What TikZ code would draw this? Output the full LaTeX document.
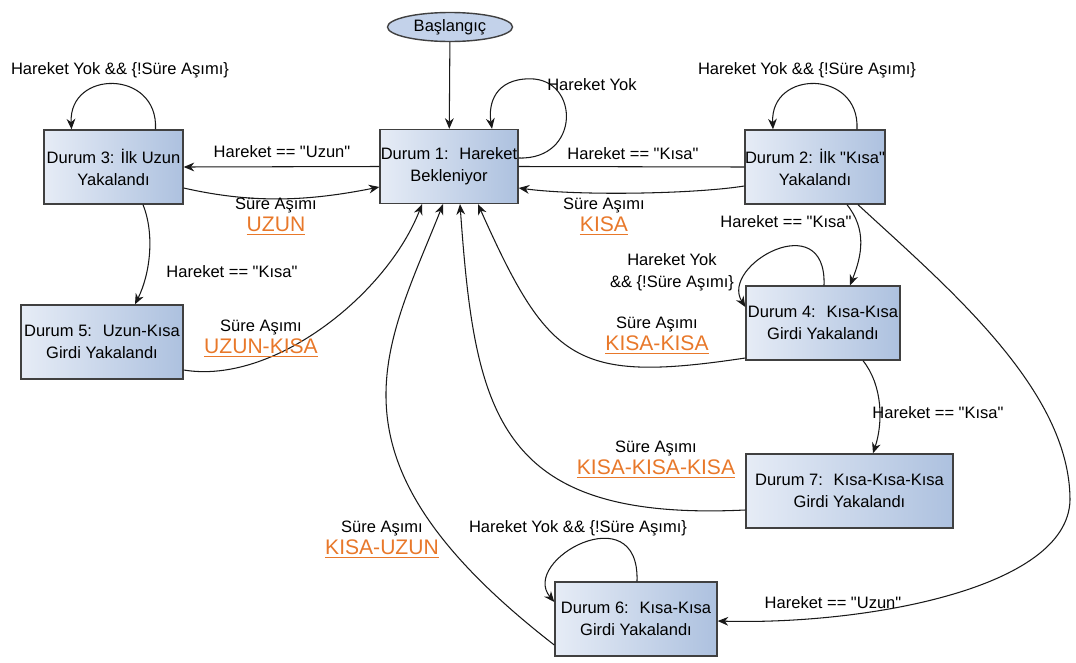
\documentclass[tikz,border=0pt]{standalone}
\usepackage{fontspec}
\setmainfont{Liberation Sans}[Ligatures=TeXOff]
\usetikzlibrary{arrows.meta,shapes.geometric,calc}

\definecolor{boxleft}{HTML}{E6ECF6}
\definecolor{boxright}{HTML}{ADC1DF}
\definecolor{startfill}{HTML}{C3D2EA}
\definecolor{timeout}{HTML}{E8782A}

\newcommand{\timeoutlbl}[1]{Süre Aşımı\\{\fontsize{12}{14}\selectfont\color{timeout}\underline{#1}}}

\begin{document}
\begin{tikzpicture}[x=0.02cm, y=-0.02cm,
	every node/.style={font=\fontsize{9.4}{12.5}\selectfont},
	statebox/.style={draw=black!75, line width=0.8pt, left color=boxleft, right color=boxright, minimum height=1.48cm, inner xsep=0pt, align=center},
	startnode/.style={draw=black!75, line width=0.8pt, fill=startfill, ellipse, minimum width=2.5cm, minimum height=0.58cm, inner sep=0pt},
	trans/.style={line width=0.6pt, draw=black!90, -{Stealth[length=6pt,width=5pt]}},
	plainline/.style={line width=0.6pt, draw=black!90},
	lbl/.style={align=center, inner sep=0pt}]
	\useasboundingbox (0,0) rectangle (1076,663);

	% Zustaende
	\node[startnode] (start) at (450,27) {Başlangıç};
	\node[statebox, minimum width=2.76cm] (D1) at (449,166.5) {Durum 1:~ Hareket\\Bekleniyor};
	\node[statebox, minimum width=2.78cm] (D3) at (113.5,167) {Durum 3: İlk Uzun\\Yakalandı};
	\node[statebox, minimum width=2.8cm] (D2) at (815,167) {Durum 2: İlk "Kısa"\\Yakalandı};
	\node[statebox, minimum width=3.24cm] (D5) at (102,342) {Durum 5:~ Uzun-Kısa\\Girdi Yakalandı};
	\node[statebox, minimum width=3.08cm] (D4) at (823,323) {Durum 4:~ Kısa-Kısa\\Girdi Yakalandı};
	\node[statebox, minimum width=4.14cm] (D7) at (849.5,491) {Durum 7:~ Kısa-Kısa-Kısa\\Girdi Yakalandı};
	\node[statebox, minimum width=3.24cm] (D6) at (636,619) {Durum 6:~ Kısa-Kısa\\Girdi Yakalandı};

	% Schleifen
	\draw[trans] (start) -- (D1);
	\draw[trans] ($(D1.east)+(0,-8.5)$) .. controls +(62,2) and +(50,0) .. ($(D1.north)+(81,-50)$)
		.. controls +(-35,0) and +(-4,-25) .. ($(D1.north)+(43,0)$);
	\draw[trans] ($(D3.north)+(42,0)$) .. controls +(3,-60) and +(-3,-60) .. ($(D3.north)+(-42,0)$);
	\draw[trans] ($(D2.north)+(42,0)$) .. controls +(3,-60) and +(-3,-60) .. ($(D2.north)+(-42,0)$);
	\draw[trans] ($(D4.north)+(1,0)$) .. controls +(3,-80) and +(-26,-42) .. ($(D4.west)+(0,-16)$);
	\draw[trans] ($(D6.north)+(1,0)$) .. controls +(3,-87) and +(-35,-42) .. ($(D6.west)+(0,-17)$);

	% Uebergaenge
	\draw[trans] (D1.west) -- (D3.east);
	\draw[plainline] (D1.east) -- (D2.west);
	\draw[trans] ($(D3.east)+(0,21)$) .. controls +(70,16) and +(-70,14) .. ($(D1.west)+(0,20.5)$);
	\draw[trans] ($(D2.west)+(0,19)$) .. controls +(-50,8) and +(60,8) .. ($(D1.east)+(0,21.5)$);
	\draw[trans] ($(D3.south)+(29.5,0)$) .. controls +(12,30) and +(15,-30) .. ($(D5.north)+(33,0)$);
	\draw[trans] ($(D2.south)+(32,0)$) .. controls +(20,25) and +(12,-30) .. ($(D4.north)+(27,0)$);
	\draw[trans] ($(D4.south)+(40,0)$) .. controls +(20,25) and +(10,-30) .. ($(D7.north)+(23.5,0)$);
	\draw[trans] ($(D2.south)+(43,0)$) .. controls +(90,83) and +(0,-110) .. (1070,500)
		.. controls +(-2,90) and +(143,4) .. ($(D6.east)+(0,2)$);

	% Zeitueberschreitung
	\draw[trans] ($(D5.east)+(0,28)$) .. controls +(90,15) and +(-35,90) .. ($(D1.south)+(-27,0)$);
	\draw[trans] ($(D6.west)+(0,26)$) .. controls +(-240,-186) and +(-58,146) .. ($(D1.south)+(-6,0)$);
	\draw[trans] ($(D7.west)+(0,19)$) .. controls +(-249,12) and +(15,209) .. ($(D1.south)+(11,0)$);
	\draw[trans] ($(D4.west)+(0,35)$) .. controls +(-170,25.5) and +(71,158.5) .. ($(D1.south)+(29,0)$);

	% Beschriftungen
	\node[lbl] (lyok1) at (592,85) {Hareket Yok};
	\node[lbl] (lyok3) at (120,70) {Hareket Yok \&\& \{!Süre Aşımı\}};
	\node[lbl] (lyok2) at (807,70) {Hareket Yok \&\& \{!Süre Aşımı\}};
	\node[lbl] (lyok4) at (672,272) {Hareket Yok\\\&\& \{!Süre Aşımı\}};
	\node[lbl] (lyok6) at (578,528) {Hareket Yok \&\& \{!Süre Aşımı\}};
	\node[lbl] (luzun13) at (282,152) {Hareket == "Uzun"};
	\node[lbl] (lkisa12) at (633,154) {Hareket == "Kısa"};
	\node[lbl] (lkisa35) at (232,272) {Hareket == "Kısa"};
	\node[lbl] (lkisa24) at (786,222) {Hareket == "Kısa"};
	\node[lbl] (lkisa47) at (938,413) {Hareket == "Kısa"};
	\node[lbl] (luzun26) at (833,603) {Hareket == "Uzun"};

	\node[lbl] (tuzun) at (276,217) {\timeoutlbl{UZUN}};
	\node[lbl] (tkisa) at (604,217) {\timeoutlbl{KISA}};
	\node[lbl] (tuk) at (261,339) {\timeoutlbl{UZUN-KISA}};
	\node[lbl] (tkk) at (657,336) {\timeoutlbl{KISA-KISA}};
	\node[lbl] (tkkk) at (656,460) {\timeoutlbl{KISA-KISA-KISA}};
	\node[lbl] (tku) at (382,540) {\timeoutlbl{KISA-UZUN}};
\end{tikzpicture}
\end{document}
